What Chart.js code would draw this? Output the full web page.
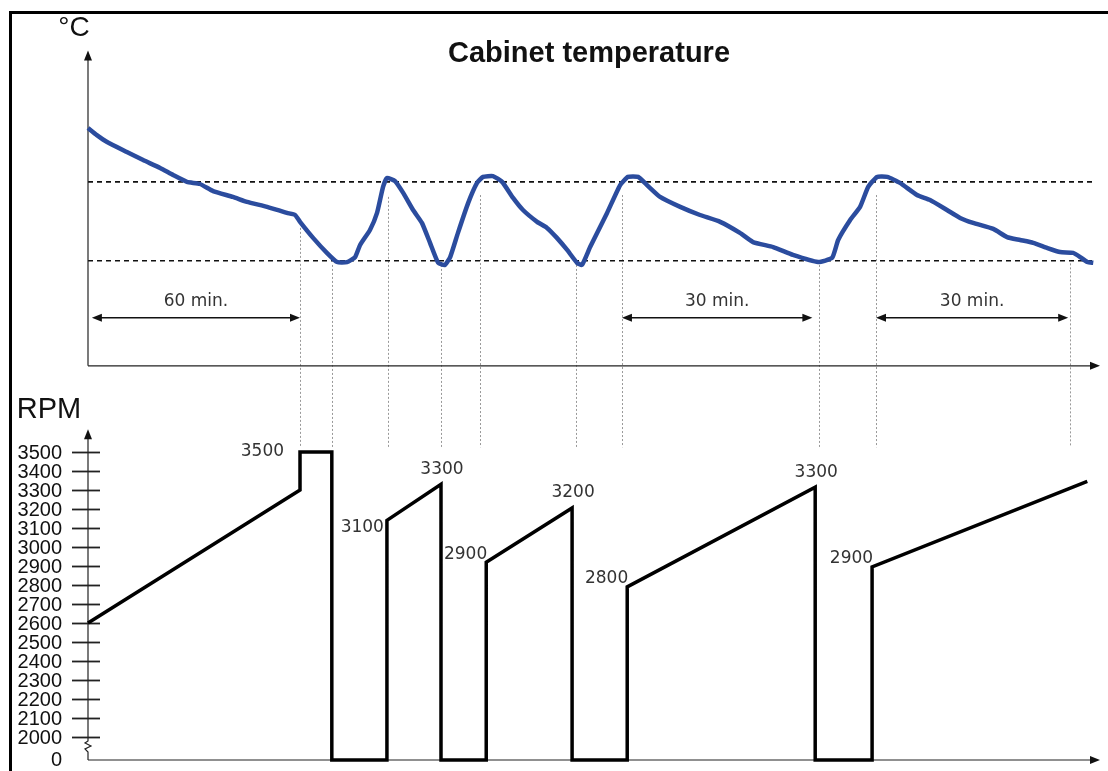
<!DOCTYPE html>
<html>
<head>
<meta charset="utf-8">
<script src="https://cdn.jsdelivr.net/npm/chart.js@4.4.0/dist/chart.umd.min.js"></script>
<style>
  html, body { margin: 0; padding: 0; background: #fff; }
  #wrap { width: 1108px; height: 771px; position: relative; }
</style>
</head>
<body>
<div id="wrap"><canvas id="myChart"></canvas></div>
<script>
/* schematic time (minutes, 0 at the temperature axis) */
const TEMP_TIME = [
    0, 2.5, 5.4, 11.0, 15.6, 20.4, 24.1, 28.0, 31.7, 35.4, 41.0, 45.0, 50.7, 56.3, 58.6,
    60.0, 63.7, 67.6, 70.5, 73.3, 75.6, 77.0, 79.8, 81.8, 83.5, 84.6, 86.9, 89.2, 92.0,
    94.5, 96.8, 99.1, 101.0, 102.5, 104.7, 107.6, 110.1, 111.8, 114.6, 117.2, 120.3,
    123.1, 127.1, 129.9, 132.7, 135.6, 138.4, 139.8, 142.1, 146.9, 150.6, 152.8, 155.7,
    158.2, 161.9, 167.6, 173.2, 178.9, 184.5, 188.2, 193.9, 199.5, 206.6, 210.6, 212.3,
    215.7, 218.5, 220.8, 223.3, 226.2, 229.8, 234.6, 238.3, 243.1, 246.8, 250.5, 256.2,
    260.1, 263.8, 267.5, 271.4, 275.1, 278.8, 280.8, 282.8, 284.5
];
const TEMP_VALUES = [
    9.05, 8.78, 8.52, 8.14, 7.83, 7.53, 7.26, 7.00, 6.92, 6.65, 6.43, 6.24, 6.05, 5.82, 5.74,
    5.48, 4.87, 4.30, 3.95, 3.95, 4.14, 4.60, 5.17, 5.82, 6.81, 7.15, 7.03, 6.58, 5.93,
    5.44, 4.68, 3.92, 3.84, 4.14, 5.06, 6.20, 6.96, 7.19, 7.22, 7.00, 6.39,
    5.93, 5.48, 5.25, 4.87, 4.41, 3.92, 3.84, 4.52, 5.82, 6.88, 7.19, 7.19,
    6.88, 6.43, 6.05, 5.74, 5.48, 5.06, 4.71, 4.52, 4.22, 3.95, 4.11, 4.79,
    5.55, 6.05, 6.81, 7.19, 7.19, 6.96, 6.50, 6.31, 5.93, 5.63, 5.44, 5.21,
    4.90, 4.79, 4.68, 4.49, 4.33, 4.30, 4.14, 3.95, 3.92
];
const TEMP_LIMITS = [4, 7];

const RPM_TIME = [0, 60, 60, 69, 69, 84.6, 84.6, 99.9, 99.9, 112.7, 112.7, 137, 137, 152.6, 152.6, 205.8, 205.8, 221.9, 221.9, 282.8];
const RPM_VALUES = [2600, 3300, 3500, 3500, 0, 0, 3140, 3330, 0, 0, 2920, 3205, 0, 0, 2790, 3315, 0, 0, 2895, 3345];
const RPM_TICKS = [2000, 2100, 2200, 2300, 2400, 2500, 2600, 2700, 2800, 2900, 3000, 3100, 3200, 3300, 3400, 3500];
const RPM_FLOOR = 1879; // axis is broken below 2000, 0 sits here

// labelled rpm points
const MARK_INDEX = [2, 6, 7, 10, 11, 14, 15, 18];
const MARK_TEXT = ['3500', '3100', '3300', '2900', '3200', '2800', '3300', '2900'];
const MARK_SIDE = ['side', 'below', 'above', 'left', 'above', 'left', 'above', 'left'];

// dotted guide lines between the two graphs
const DROP_TIME = [60, 69, 85, 100, 111, 138, 151, 207, 223, 278];
const DROP_TEMP = [5.25, 3.84, 6.43, 3.84, 6.5, 3.84, 6.5, 3.84, 6.5, 3.9];

// interval arrows
const SPAN_FROM = [1.1, 151.1, 223];
const SPAN_TO = [60, 205, 277.4];
const SPAN_TEXT = ['60 min.', '30 min.', '30 min.'];

function head(ctx, x, y, dir) {
    ctx.beginPath();
    if (dir === 'up') {
        ctx.moveTo(x, y); ctx.lineTo(x - 4, y + 10); ctx.lineTo(x + 4, y + 10);
    } else if (dir === 'right') {
        ctx.moveTo(x, y); ctx.lineTo(x - 10, y - 4); ctx.lineTo(x - 10, y + 4);
    } else {
        ctx.moveTo(x, y); ctx.lineTo(x + 10, y - 4); ctx.lineTo(x + 10, y + 4);
    }
    ctx.closePath();
    ctx.fill();
}

function line(ctx, x1, y1, x2, y2) {
    ctx.beginPath();
    ctx.moveTo(x1, y1);
    ctx.lineTo(x2, y2);
    ctx.stroke();
}

const sketch = {
    id: 'sketch',
    beforeDatasetsDraw(chart) {
        const { ctx, scales: { x, yT, yR } } = chart;
        const x0 = x.getPixelForValue(0);
        const xEnd = x.getPixelForValue(286.4);
        ctx.save();

        // frame
        ctx.strokeStyle = '#000';
        ctx.lineWidth = 3;
        ctx.strokeRect(10.5, 12.5, 1110, 770);

        // dotted guides
        ctx.strokeStyle = '#999';
        ctx.lineWidth = 1;
        ctx.setLineDash([2, 2]);
        DROP_TIME.forEach((t, i) => {
            const px = Math.round(x.getPixelForValue(t)) + 0.5;
            line(ctx, px, yT.getPixelForValue(DROP_TEMP[i]), px, yR.getPixelForValue(3525));
        });

        // limit lines
        ctx.strokeStyle = '#111';
        ctx.lineWidth = 1.6;
        ctx.setLineDash([5, 4]);
        TEMP_LIMITS.forEach(v => {
            const py = yT.getPixelForValue(v);
            line(ctx, x0, py, x.getPixelForValue(285), py);
        });
        ctx.setLineDash([]);

        // temperature axes
        ctx.strokeStyle = '#222';
        ctx.fillStyle = '#111';
        ctx.lineWidth = 1.2;
        const yZero = yT.getPixelForValue(0);
        const yTop = yT.getPixelForValue(12.0);
        line(ctx, x0, yZero, x0, yTop + 6);
        head(ctx, x0, yTop, 'up');
        line(ctx, x0, yZero, xEnd - 6, yZero);
        head(ctx, xEnd, yZero, 'right');

        // rpm axes with break
        const yBase = yR.getPixelForValue(RPM_FLOOR);
        const yArrow = yR.getPixelForValue(3620);
        line(ctx, x0, yBase, xEnd - 6, yBase);
        head(ctx, xEnd, yBase, 'right');
        ctx.beginPath();
        ctx.moveTo(x0, yBase);
        ctx.lineTo(x0, yBase - 8);
        ctx.lineTo(x0 - 3, yBase - 11);
        ctx.lineTo(x0 + 3, yBase - 14);
        ctx.lineTo(x0 - 3, yBase - 17);
        ctx.lineTo(x0, yBase - 19);
        ctx.lineTo(x0, yArrow + 6);
        ctx.stroke();
        head(ctx, x0, yArrow, 'up');

        // rpm ticks
        ctx.lineWidth = 1.8;
        ctx.font = '20px "Liberation Sans"';
        ctx.textAlign = 'right';
        ctx.textBaseline = 'middle';
        RPM_TICKS.forEach(v => {
            const py = Math.round(yR.getPixelForValue(v)) + 0.5;
            line(ctx, x0 - 16, py, x0 + 12, py);
            ctx.fillText(String(v), x0 - 26, py + 1);
        });
        ctx.fillText('0', x0 - 26, yBase);

        // interval arrows
        ctx.lineWidth = 1.3;
        ctx.strokeStyle = '#111';
        ctx.font = '17px "DejaVu Sans"';
        ctx.textAlign = 'center';
        SPAN_FROM.forEach((t, i) => {
            const a = x.getPixelForValue(t);
            const b = x.getPixelForValue(SPAN_TO[i]);
            const py = yT.getPixelForValue(1.83);
            line(ctx, a + 6, py, b - 6, py);
            head(ctx, a, py, 'left');
            head(ctx, b, py, 'right');
            ctx.fillStyle = '#333';
            ctx.fillText(SPAN_TEXT[i], (a + b) / 2, yT.getPixelForValue(2.45));
            ctx.fillStyle = '#111';
        });

        // titles
        ctx.fillStyle = '#111';
        ctx.font = 'bold 29px "Liberation Sans"';
        ctx.fillText('Cabinet temperature', 589, 54);
        ctx.font = '28px "Liberation Sans"';
        ctx.fillText('°C', 74, 28);
        ctx.font = '29px "Liberation Sans"';
        ctx.fillText('RPM', 49, 410);
        ctx.restore();
    },
    afterDatasetsDraw(chart) {
        const { ctx, scales: { x, yR } } = chart;
        ctx.save();
        ctx.fillStyle = '#333';
        ctx.font = '17px "DejaVu Sans"';
        ctx.textBaseline = 'middle';
        MARK_INDEX.forEach((idx, i) => {
            const px = x.getPixelForValue(RPM_TIME[idx]);
            const py = yR.getPixelForValue(RPM_VALUES[idx]);
            if (MARK_SIDE[i] === 'above') {
                ctx.textAlign = 'center';
                ctx.fillText(MARK_TEXT[i], px + 1, py - 15);
            } else if (MARK_SIDE[i] === 'side') {
                ctx.textAlign = 'right';
                ctx.fillText(MARK_TEXT[i], px - 16, py);
            } else if (MARK_SIDE[i] === 'below') {
                ctx.textAlign = 'right';
                ctx.fillText(MARK_TEXT[i], px - 3, py + 7);
            } else {
                ctx.textAlign = 'right';
                ctx.fillText(MARK_TEXT[i], px + 1, py - 8);
            }
        });
        ctx.restore();
    }
};

const data = {
    datasets: [{
        label: 'Cabinet temperature',
        data: TEMP_TIME.map((t, i) => ({ x: t, y: TEMP_VALUES[i] })),
        yAxisID: 'yT',
        borderColor: '#2b4c9e',
        borderWidth: 4.5,
        pointRadius: 0,
        tension: 0.15,
        clip: false
    },
    {
        label: 'RPM',
        data: RPM_TIME.map((t, i) => ({ x: t, y: RPM_VALUES[i] === 0 ? RPM_FLOOR : RPM_VALUES[i] })),
        yAxisID: 'yR',
        borderColor: '#000',
        borderWidth: 3.5,
        borderJoinStyle: 'miter',
        pointRadius: 0,
        tension: 0,
        clip: false
    }]
};

const options = {
    animation: false,
    responsive: true,
    maintainAspectRatio: false,
    layout: { padding: { left: 88, right: 8, top: 40, bottom: 11 } },
    scales: {
        x: { type: 'linear', min: 0, max: 286.4, display: false },
        yT: { type: 'linear', min: -15, max: 12.4, display: false },
        yR: { type: 'linear', min: RPM_FLOOR, max: 5668, display: false }
    },
    plugins: {
        legend: { display: false },
        tooltip: { enabled: false }
    }
};

const ctx = document.getElementById('myChart');
const myChart = new Chart(ctx, {
    type: 'line',
    data,
    options,
    plugins: [sketch]
});
</script>
</body>
</html>
